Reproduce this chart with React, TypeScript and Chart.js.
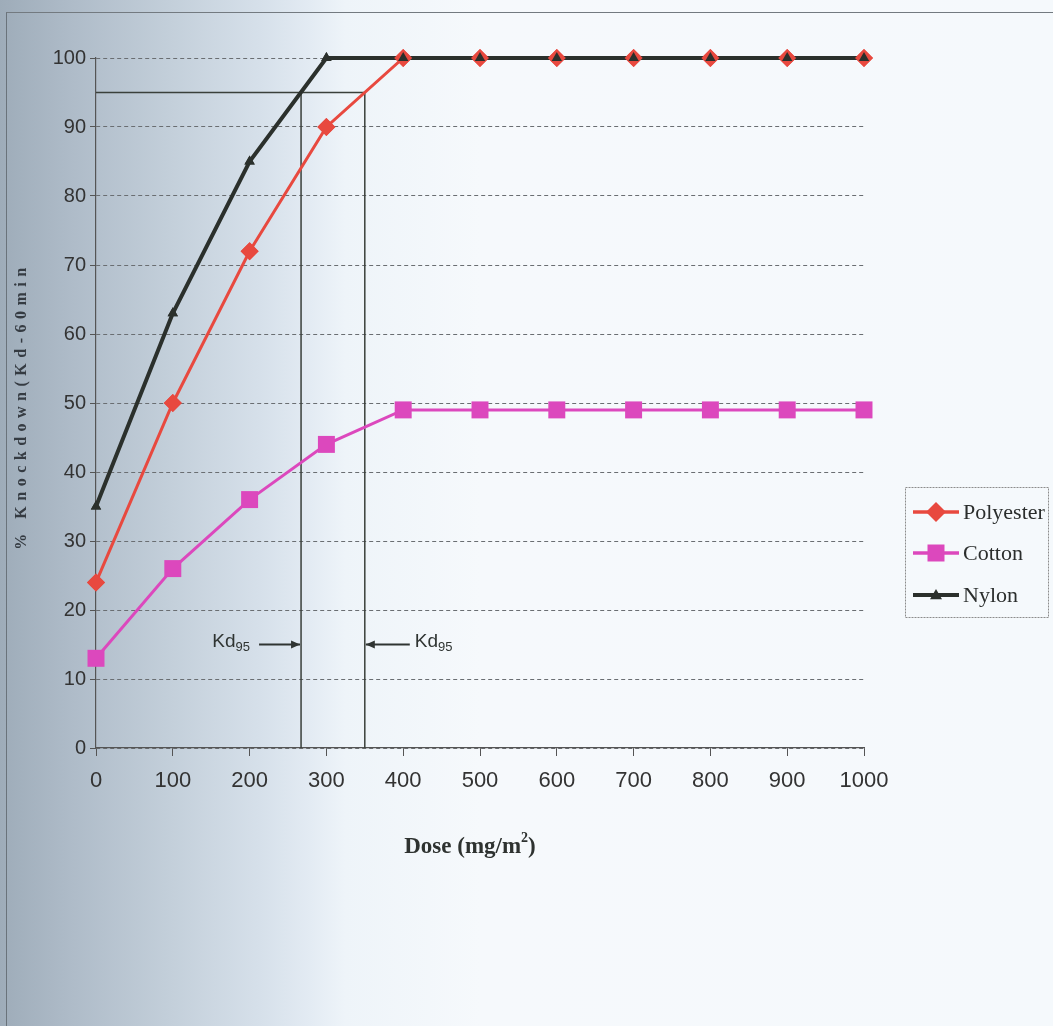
import React, { useEffect, useRef } from "react";
import { Chart, registerables } from "chart.js";

Chart.register(...registerables);

// ---- data ----
const doses = [0, 100, 200, 300, 400, 500, 600, 700, 800, 900, 1000];
const polyester = [24, 50, 72, 90, 100, 100, 100, 100, 100, 100, 100];
const cotton = [13, 26, 36, 44, 49, 49, 49, 49, 49, 49, 49];
const nylon = [35, 63, 85, 100, 100, 100, 100, 100, 100, 100, 100];
const seriesLabels = ["Polyester", "Cotton", "Nylon"];
const kd95Level = 95;
const kd95Doses = [267, 350];
const kdText = "Kd";
const kdSub = "95";
const yTitle = "% Knockdown(Kd-60min";
const xTitleMain = "Dose (mg/m";
const xTitleSup = "2";
const xTitleEnd = ")";

// ---- styles ----
const SANS = '"Liberation Sans Narrow", "Arial Narrow", "Liberation Sans", Arial, sans-serif';
const SANS_REG = '"Liberation Sans", Arial, sans-serif';
const SERIF = '"Liberation Serif", "Times New Roman", serif';
const RED = "#e8493f";
const PINK = "#dc48bd";
const DARK = "#2b302c";
const colors = [RED, PINK, DARK];
const markers = ["rectRot", "rect", "triangle"];

function drawMarker(ctx: CanvasRenderingContext2D, style: string, x: number, y: number, r: number) {
  ctx.beginPath();
  if (style === "rectRot") {
    ctx.moveTo(x, y - r);
    ctx.lineTo(x + r, y);
    ctx.lineTo(x, y + r);
    ctx.lineTo(x - r, y);
  } else if (style === "rect") {
    ctx.rect(x - r, y - r, 2 * r, 2 * r);
  } else {
    ctx.moveTo(x, y - r);
    ctx.lineTo(x + r, y + r * 0.7);
    ctx.lineTo(x - r, y + r * 0.7);
  }
  ctx.closePath();
  ctx.fill();
}

function arrow(ctx: CanvasRenderingContext2D, x1: number, x2: number, y: number) {
  ctx.beginPath();
  ctx.moveTo(x1, y);
  ctx.lineTo(x2, y);
  ctx.stroke();
  const dir = Math.sign(x2 - x1);
  ctx.beginPath();
  ctx.moveTo(x2, y);
  ctx.lineTo(x2 - dir * 9, y - 4);
  ctx.lineTo(x2 - dir * 9, y + 4);
  ctx.closePath();
  ctx.fill();
}

const overlay = {
  id: "overlay",
  beforeDatasetsDraw(chart: any) {
    const { ctx } = chart;
    const xs = chart.scales.x;
    const ys = chart.scales.y;
    const yk = ys.getPixelForValue(kd95Level);
    const xa = xs.getPixelForValue(kd95Doses[0]);
    const xb = xs.getPixelForValue(kd95Doses[1]);
    ctx.save();
    ctx.strokeStyle = "#3a403b";
    ctx.lineWidth = 1.5;
    ctx.beginPath();
    ctx.moveTo(xs.left, yk);
    ctx.lineTo(xb, yk);
    ctx.moveTo(xa, yk);
    ctx.lineTo(xa, ys.bottom);
    ctx.moveTo(xb, yk);
    ctx.lineTo(xb, ys.bottom);
    ctx.stroke();
    ctx.restore();
  },
  afterDatasetsDraw(chart: any) {
    const { ctx } = chart;
    [0, 2].forEach((i) => {
      chart.getDatasetMeta(i).data.forEach((p: any) => p.draw(ctx, chart.chartArea));
    });
  },
  afterDraw(chart: any) {
    const { ctx } = chart;
    const xs = chart.scales.x;
    const ys = chart.scales.y;
    ctx.save();

    // Kd95 annotations
    const ya = ys.getPixelForValue(15);
    const xa = xs.getPixelForValue(kd95Doses[0]);
    const xb = xs.getPixelForValue(kd95Doses[1]);
    ctx.fillStyle = "#2f3432";
    ctx.strokeStyle = "#2f3432";
    ctx.lineWidth = 2;
    arrow(ctx, xa - 42, xa - 1, ya);
    arrow(ctx, xb + 45, xb + 1, ya);
    ctx.textBaseline = "alphabetic";
    ctx.font = `19px ${SANS_REG}`;
    const kdW = ctx.measureText(kdText).width;
    ctx.font = `13px ${SANS_REG}`;
    const subW = ctx.measureText(kdSub).width;
    const leftStart = xa - 51 - kdW - subW;
    ctx.font = `19px ${SANS_REG}`;
    ctx.textAlign = "left";
    ctx.fillText(kdText, leftStart, ya + 2);
    ctx.font = `13px ${SANS_REG}`;
    ctx.fillText(kdSub, leftStart + kdW, ya + 6);
    const rightStart = xb + 50;
    ctx.font = `19px ${SANS_REG}`;
    ctx.fillText(kdText, rightStart, ya + 2);
    ctx.font = `13px ${SANS_REG}`;
    ctx.fillText(kdSub, rightStart + kdW, ya + 6);

    // x title
    ctx.fillStyle = "#2e3230";
    ctx.font = `bold 23px ${SERIF}`;
    const w1 = ctx.measureText(xTitleMain).width;
    ctx.font = `bold 14px ${SERIF}`;
    const w2 = ctx.measureText(xTitleSup).width;
    ctx.font = `bold 23px ${SERIF}`;
    const w3 = ctx.measureText(xTitleEnd).width;
    const cx = 470;
    let tx = cx - (w1 + w2 + w3) / 2;
    const ty = 853;
    ctx.fillText(xTitleMain, tx, ty);
    tx += w1;
    ctx.font = `bold 14px ${SERIF}`;
    ctx.fillText(xTitleSup, tx, ty - 11);
    tx += w2;
    ctx.font = `bold 23px ${SERIF}`;
    ctx.fillText(xTitleEnd, tx, ty);

    // y title
    ctx.save();
    ctx.translate(26, 406);
    ctx.rotate(-Math.PI / 2);
    ctx.font = `bold 16px ${SERIF}`;
    (ctx as any).letterSpacing = "5.5px";
    ctx.textAlign = "center";
    ctx.fillStyle = "#353b42";
    ctx.fillText(yTitle, 0, 0);
    ctx.restore();

    // legend
    ctx.save();
    ctx.strokeStyle = "#8c8c8c";
    ctx.lineWidth = 1;
    ctx.setLineDash([2, 1]);
    ctx.strokeRect(905.5, 487.5, 143, 130);
    ctx.restore();
    const rowY = [512, 553, 595];
    const rad = [10, 8.5, 6];
    seriesLabels.forEach((lab, i) => {
      const y = rowY[i];
      ctx.strokeStyle = colors[i];
      ctx.fillStyle = colors[i];
      ctx.lineWidth = i === 2 ? 4 : 3.5;
      ctx.beginPath();
      ctx.moveTo(913, y);
      ctx.lineTo(959, y);
      ctx.stroke();
      drawMarker(ctx, markers[i], 936, y, rad[i]);
      ctx.fillStyle = "#2b2e2d";
      ctx.font = `22px ${SERIF}`;
      ctx.textAlign = "left";
      ctx.textBaseline = "middle";
      ctx.fillText(lab, 963, y + 1);
    });
    ctx.restore();
  },
};

export default function App() {
  const ref = useRef<HTMLCanvasElement>(null);

  useEffect(() => {
    const mk = (vals: number[]) => doses.map((d, i) => ({ x: d, y: vals[i] }));
    const chart = new Chart(ref.current as HTMLCanvasElement, {
      type: "line",
      data: {
        datasets: [
          {
            label: seriesLabels[0],
            data: mk(polyester),
            borderColor: RED,
            backgroundColor: RED,
            borderWidth: 3,
            pointStyle: "rectRot",
            pointRadius: 9,
            pointBorderWidth: 0,
            clip: false,
            order: 3,
          },
          {
            label: seriesLabels[1],
            data: mk(cotton),
            borderColor: PINK,
            backgroundColor: PINK,
            borderWidth: 3,
            pointStyle: "rect",
            pointRadius: 12,
            pointBorderWidth: 0,
            clip: false,
            order: 2,
          },
          {
            label: seriesLabels[2],
            data: mk(nylon),
            borderColor: DARK,
            backgroundColor: DARK,
            borderWidth: 4,
            pointStyle: "triangle",
            pointRadius: 6,
            pointBorderWidth: 0,
            clip: false,
            order: 1,
          },
        ],
      },
      options: {
        responsive: false,
        devicePixelRatio: 1,
        animation: false,
        layout: { padding: { left: 36, top: 58, right: 189, bottom: 218 } },
        plugins: { legend: { display: false }, tooltip: { enabled: false } },
        scales: {
          x: {
            type: "linear",
            min: 0,
            max: 1000,
            afterFit: (s: any) => {
              s.height = 60;
            },
            ticks: {
              stepSize: 100,
              color: "#333",
              font: { family: SANS, size: 22 },
              padding: 12,
              maxRotation: 0,
              callback: (v: any) => String(v),
            },
            grid: {
              drawOnChartArea: false,
              drawTicks: true,
              tickLength: 8,
              color: "#555",
              lineWidth: 1,
            },
            border: { display: true, color: "#555", width: 1.2 },
          },
          y: {
            min: 0,
            max: 100,
            afterFit: (s: any) => {
              s.width = 60;
            },
            ticks: {
              stepSize: 10,
              color: "#333",
              font: { family: SANS, size: 20 },
              padding: 4,
            },
            grid: {
              color: "#6a6e72",
              lineWidth: 1,
              tickLength: 6,
              tickColor: "#555",
            },
            border: { display: true, color: "#555", width: 1.2, dash: [4, 3] },
          },
        },
      },
      plugins: [overlay],
    } as any);
    return () => chart.destroy();
  }, []);

  return (
    <div
      style={{
        position: "fixed",
        left: 0,
        top: 0,
        width: 1053,
        height: 1026,
        overflow: "hidden",
        background:
          "linear-gradient(to right, #9eacb9 0px, #aebbc8 70px, #c3cfda 170px, #d6e0ea 260px, #e3ebf3 310px, #eef4f9 345px, #f6f9fc 480px, #f5f9fc 1053px)",
      }}
    >
      <div
        style={{
          position: "absolute",
          left: 6,
          top: 12,
          right: 0,
          bottom: 0,
          borderTop: "1.5px solid #737a80",
          borderLeft: "1.5px solid #6a737b",
        }}
      />
      <canvas ref={ref} width={1053} height={1026} style={{ position: "absolute", left: 0, top: 0 }} />
    </div>
  );
}
